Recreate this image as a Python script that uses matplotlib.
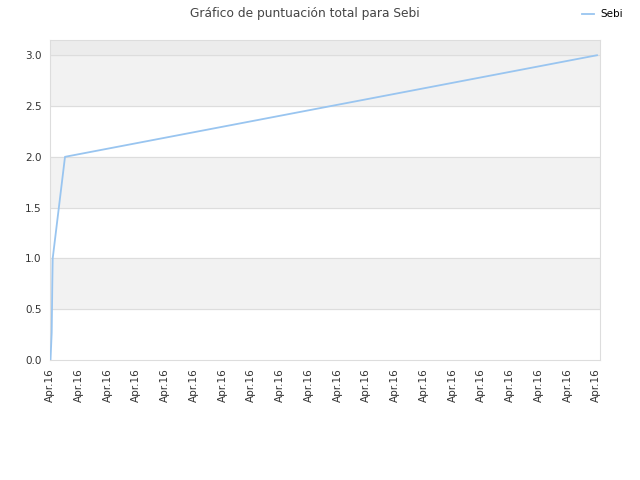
import matplotlib.pyplot as plt

# time position (arbitrary units) and cumulative score
times = [0.5, 1.7, 2.3, 2.7, 15, 547]
scores = [0, 0.27, 0.75, 1.0, 2.0, 3.0]
tick_pos = [i * 28.75 for i in range(20)]
tick_labels = ["Apr.16"] * 20

fig = plt.figure(figsize=(6.4, 4.8), dpi=100)
ax = fig.add_axes([50 / 640, 120 / 480, 550 / 640, 320 / 480])

# alternating horizontal bands
for lo in [0.5, 1.5, 2.5]:
    ax.axhspan(lo, lo + 0.5, color="#f2f2f2", zorder=0)
ax.axhspan(3.0, 3.5, color="#ececec", zorder=0)
for y in [0.5, 1.0, 1.5, 2.0, 2.5, 3.0]:
    ax.axhline(y, color="#dddddd", lw=0.8, zorder=1)

ax.plot(times, scores, color="#99c5f0", lw=1.3, label="Sebi", zorder=3)

ax.set_xlim(0, 550)
ax.set_ylim(0, 3.15)
ax.set_yticks([0, 0.5, 1.0, 1.5, 2.0, 2.5, 3.0])
ax.set_yticklabels(["0.0", "0.5", "1.0", "1.5", "2.0", "2.5", "3.0"])
ax.set_xticks(tick_pos)
ax.set_xticklabels(tick_labels, rotation=90)
ax.tick_params(length=0, labelsize=7.5, colors="#333333", pad=6)

for s in ax.spines.values():
    s.set_color("#dddddd")

fig.text(0.476, 0.985, "Gráfico de puntuación total para Sebi", fontsize=8.8,
         color="#444444", ha="center", va="top")
fig.legend(loc="upper right", bbox_to_anchor=(0.988, 1.0), frameon=False, fontsize=7.5,
           handlelength=1.2, handletextpad=0.6)

plt.savefig("out.png")
